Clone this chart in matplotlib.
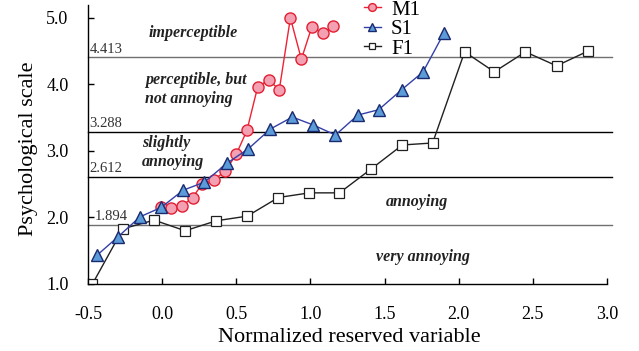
import numpy as np
import matplotlib
matplotlib.use('Agg')
import matplotlib.pyplot as plt

plt.rcParams['font.family'] = ['Liberation Serif', 'DejaVu Serif']

# %% data
m1_x = [-0.007, 0.06, 0.133, 0.205, 0.27, 0.347, 0.426, 0.50, 0.572,
        0.644, 0.718, 0.79, 0.865, 0.939, 1.01, 1.083, 1.153]
m1_y = [2.15, 2.14, 2.17, 2.30, 2.50, 2.56, 2.70, 2.95, 3.31,
        3.96, 4.07, 3.92, 5.00, 4.38, 4.87, 4.77, 4.88]

s1_x = [-0.44, -0.297, -0.149, -0.007, 0.142, 0.284, 0.44, 0.58, 0.73,
        0.878, 1.02, 1.169, 1.32, 1.46, 1.615, 1.76, 1.90]
s1_y = [1.43, 1.71, 2.01, 2.15, 2.41, 2.53, 2.82, 3.03, 3.33,
        3.51, 3.39, 3.24, 3.54, 3.62, 3.92, 4.19, 4.77]

f1_x = [-0.47, -0.264, -0.054, 0.155, 0.365, 0.574, 0.784, 0.993, 1.196,
        1.41, 1.62, 1.824, 2.04, 2.24, 2.45, 2.66, 2.87]
f1_y = [1.00, 1.83, 1.96, 1.80, 1.95, 2.02, 2.30, 2.37, 2.37,
        2.73, 3.09, 3.12, 4.49, 4.19, 4.49, 4.28, 4.50]

levels = [4.413, 3.288, 2.612, 1.894]
level_names = ['4.413', '3.288', '2.612', '1.894']

xticks = [-0.5, 0.0, 0.5, 1.0, 1.5, 2.0, 2.5, 3.0]
xtick_labels = ['-0.5', '0.0', '0.5', '1.0', '1.5', '2.0', '2.5', '3.0']
yticks = [1.0, 2.0, 3.0, 4.0, 5.0]
ytick_labels = ['1.0', '2.0', '3.0', '4.0', '5.0']

# %%
fig = plt.figure(figsize=(6.39, 3.51), dpi=100)
ax = fig.add_axes([0.1377, 0.191, 0.8122, 0.7957])

level_colors = ['#707070', 'black', 'black', '#707070']
for lv, c in zip(levels, level_colors):
    ax.plot([-0.5, 3.035], [lv, lv], color=c, lw=1.0, zorder=1, clip_on=False)

ax.plot(m1_x, m1_y, '-o', color='#ee2233', mfc='#f2a0b2', mec='#e41e32',
        ms=8, mew=1.0, lw=1.0, zorder=3, label='M1')
ax.plot(s1_x, s1_y, '-^', color='#3340a8', mfc='#5b9bd8', mec='#1a2a70',
        ms=8.5, mew=1.0, lw=1.0, zorder=4, label='S1')
ax.plot(f1_x, f1_y, '-s', color='#202020', mfc='white', mec='#202020',
        ms=7, mew=0.9, lw=1.0, zorder=2, label='F1')

ax.set_xlim(-0.5, 3.0)
ax.set_ylim(1.0, 5.2)
ax.set_xticks(xticks)
ax.set_xticklabels(xtick_labels)
ax.set_yticks(yticks)
ax.set_yticklabels(ytick_labels)
ax.tick_params(axis='both', direction='in', length=4, width=1.0, labelsize=13)
ax.tick_params(axis='x', pad=16)
ax.tick_params(axis='y', pad=14)
for s in ['top', 'right']:
    ax.spines[s].set_visible(False)
for s in ['left', 'bottom']:
    ax.spines[s].set_linewidth(1.0)

ax.set_xlabel('Normalized reserved variable', fontsize=16)
ax.set_ylabel('Psychological scale', fontsize=16)
ax.xaxis.set_label_coords(0.504, -0.158)
ax.yaxis.set_label_coords(-0.097, 0.483)

# level value labels
for lv, name in zip(levels, level_names):
    xx = -0.455 if name == '1.894' else -0.49
    ax.text(xx, lv + 0.02, name, fontsize=10.5, color='#333333',
            ha='left', va='bottom')

# region labels
kw = dict(fontsize=11.5, fontweight='bold', fontstyle='italic', color='#222222')
ax.text(0.209, 4.77, 'imperceptible', ha='center', va='center', **kw)
ax.text(-0.115, 3.92, 'perceptible, but\nnot annoying', ha='left', va='center',
        linespacing=1.25, **kw)
ax.text(-0.135, 2.97, 'slightly\nannoying', ha='left', va='center',
        linespacing=1.25, **kw)
ax.text(1.72, 2.23, 'annoying', ha='center', va='center', **kw)
ax.text(1.76, 1.41, 'very annoying', ha='center', va='center', **kw)

fig.legend(loc='upper left', bbox_to_anchor=(364 / 639, 1.0),
           frameon=False, fontsize=15, markerscale=0.7, handlelength=0.8,
           handletextpad=0.5, labelspacing=0.0, borderpad=0.0,
           borderaxespad=0.0)

fig.savefig('out.png', dpi=100)
